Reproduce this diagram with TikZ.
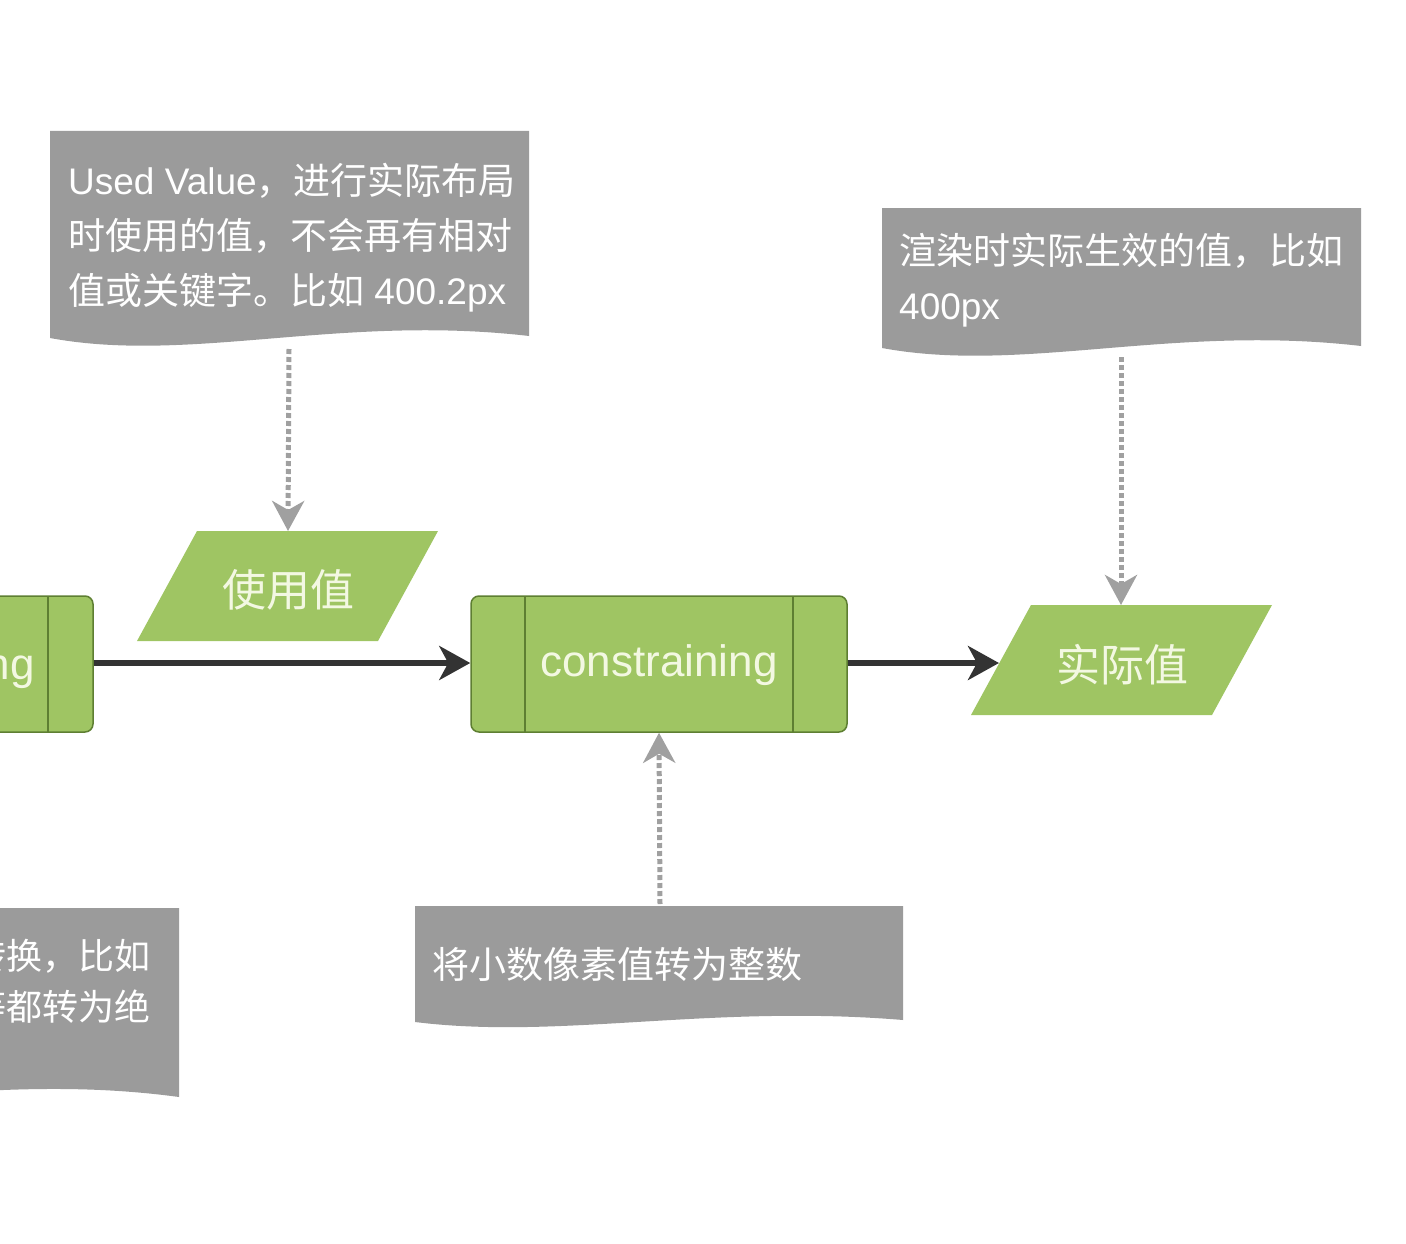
\documentclass[tikz,border=0pt]{standalone}
\usepackage{fontspec}
\setmainfont{Liberation Sans}
\newfontfamily\cjk{Noto Sans CJK SC}
\usetikzlibrary{arrows.meta}
\definecolor{docgray}{HTML}{9B9B9B}
\definecolor{leaf}{HTML}{9FC563}
\definecolor{leafline}{HTML}{5E7F32}
\definecolor{leaftext}{HTML}{F3F8E2}
\definecolor{arrowdark}{HTML}{333333}
\definecolor{dotgray}{HTML}{A0A0A0}
\begin{document}
\begin{tikzpicture}[x=1pt,y=-1pt,
  doctext/.style={text=white, inner sep=0pt, font=\fontsize{37}{37}\selectfont},
  greentext/.style={text=leaftext, inner sep=0pt, font=\cjk\fontsize{44}{44}\selectfont},
  procbox/.style={rectangle, rounded corners=8pt, fill=leaf, draw=leafline, line width=1.5pt,
     minimum width=376pt, minimum height=136pt, inner sep=0pt},
  procline/.style={draw=leafline, line width=1.5pt},
  flowarrow/.style={draw=arrowdark, line width=5.5pt, -{Stealth[length=31pt,width=34pt,inset=9pt]}},
  notearrow/.style={draw=dotgray, line width=5pt, dash pattern=on 5pt off 3pt,
     -{Stealth[length=30pt,width=32pt,inset=9pt]}},
  datafill/.style={fill=leaf},
  docfill/.style={fill=docgray}]
\useasboundingbox (0,0) rectangle (1406,1244);

% ---------- document notes ----------
% note 1
\path[docfill] (50,131) -- (529,131) -- (529,336)
   .. controls (340,314) and (190,364) .. (50,338) -- cycle;
\node[doctext, anchor=base west] (n1a) at (68,194) {Used Value{\cjk ，进行实际布局}};
\node[doctext, anchor=base west] (n1b) at (68,249) {\cjk 时使用的值，不会再有相对};
\node[doctext, anchor=base west] (n1c) at (68,304) {{\cjk 值或关键字。比如} 400.2px};
\coordinate (n1bot) at (289,349);

% note 2
\path[docfill] (882,208) -- (1361,208) -- (1361,346)
   .. controls (1172,324) and (1022,374) .. (882,348) -- cycle;
\node[doctext, anchor=base west] (n2a) at (899,264) {\cjk 渲染时实际生效的值，比如};
\node[doctext, anchor=base west] (n2b) at (899,319) {400px};
\coordinate (n2bot) at (1121,357);

% note 3
\path[docfill] (415,906) -- (903,906) -- (903,1020)
   .. controls (710,1004) and (560,1040) .. (415,1022) -- cycle;
\node[doctext, anchor=base west] (n3a) at (432,978) {\cjk 将小数像素值转为整数};
\coordinate (n3top) at (660,904);

% note 4 (cut off on the left, as in the reference)
\path[docfill] (-330,908) -- (179,908) -- (179,1097)
   .. controls (-20,1070) and (-180,1122) .. (-330,1095) -- cycle;
\node[doctext, font=\fontsize{36}{36}\selectfont, anchor=base east] (n4a) at (151,969) {\cjk 转换，比如};
\node[doctext, font=\fontsize{36}{36}\selectfont, anchor=base east] (n4b) at (151,1020) {\cjk 等都转为绝};

% ---------- process boxes ----------
\node[procbox] (fmt) at (-95,664) {};
\draw[procline] (48,596) -- (48,732);
\node[text=leaftext, inner sep=0pt, font=\fontsize{44}{44}\selectfont, anchor=base east] (fmtlabel) at (35,679) {formatting};

\node[procbox] (cons) at (659,664) {};
\draw[procline] (525,596) -- (525,732);
\draw[procline] (793,596) -- (793,732);
\node[text=leaftext, inner sep=0pt, font=\fontsize{44}{44}\selectfont] (conslabel) at (659,665) {constraining};

% ---------- data (parallelograms) ----------
\path[datafill] (197,531) -- (438,531) -- (378,641) -- (137,641) -- cycle;
\node[greentext] (used) at (288,590) {使用值};
\coordinate (usedtop) at (288,531);

\path[datafill] (1031,605) -- (1272,605) -- (1212,715) -- (971,715) -- cycle;
\node[greentext] (actual) at (1122,665) {实际值};
\coordinate (actualtop) at (1121,605);
\coordinate (actualleft) at (999,663);

% ---------- connectors ----------
\draw[flowarrow] (fmt.east |- 0,663) -- (cons.west |- 0,663);
\draw[flowarrow] (cons.east |- 0,663) -- (actualleft);
\draw[notearrow] (n1bot) -- (usedtop);
\draw[notearrow] (n2bot) -- (actualtop);
\draw[notearrow] (n3top) -- (cons.south);
\end{tikzpicture}
\end{document}
